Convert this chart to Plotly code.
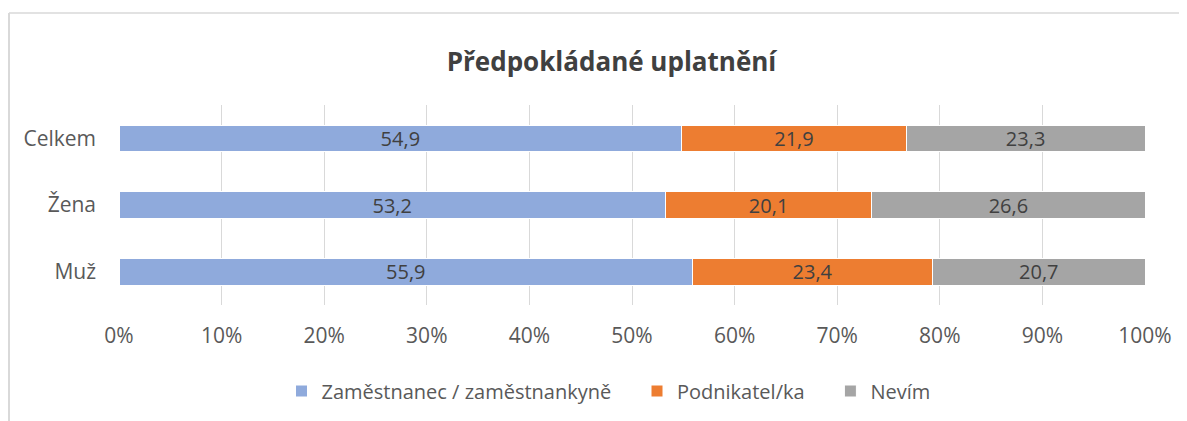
import plotly.graph_objects as go

categories = ["Muž", "Žena", "Celkem"]
series_names = ["Zaměstnanec / zaměstnankyně", "Podnikatel/ka", "Nevím"]
zamestnanec = [55.9, 53.2, 54.9]
podnikatel = [23.4, 20.1, 21.9]
nevim = [20.7, 26.6, 23.3]
tick_vals = [0, 10, 20, 30, 40, 50, 60, 70, 80, 90, 100]
tick_text = ["0%", "10%", "20%", "30%", "40%", "50%", "60%", "70%", "80%", "90%", "100%"]

colors = ["#8FAADC", "#ED7D31", "#A5A5A5"]
FONT = "Open Sans"
PAD = "\u00a0\u00a0\u00a0\u00a0"

# page body has an 8px margin: figure coordinates are page coordinates minus 8
OFF = 8
L, T, PW, PH = 119 - OFF, 105 - OFF, 1026, 200
W, H = 1187, 421

fig = go.Figure()
for i, (name, vals, col) in enumerate(zip(series_names, [zamestnanec, podnikatel, nevim], colors)):
    fig.add_trace(go.Bar(
        y=categories, x=vals, name=name + (PAD if i < 2 else ""), orientation="h",
        marker=dict(color=col, line=dict(color="white", width=1)),
        text=[f"{v:.1f}".replace(".", ",") for v in vals],
        textposition="inside", insidetextanchor="middle", textangle=0,
        textfont=dict(family=FONT, size=20, color="#404040"),
        constraintext="none",
        hoverinfo="skip",
    ))

fx = lambda px: (px - 119) / PW
fy = lambda py: (305 - py) / PH

fig.update_layout(
    barmode="stack", barnorm="percent", bargap=0.6,
    width=W, height=H,
    margin=dict(l=L, r=W - L - PW, t=T, b=H - T - PH, pad=0),
    paper_bgcolor="white", plot_bgcolor="white",
    font=dict(family=FONT, color="#595959"),
    title=dict(text="<b>Předpokládané uplatnění</b>", x=(611.5 - OFF) / W, xanchor="center",
               y=1 - (62 - OFF) / H, yanchor="middle",
               font=dict(family=FONT, size=26, color="#404040")),
    xaxis=dict(range=[0, 100], tickvals=tick_vals, ticktext=tick_text,
               showgrid=True, gridcolor="#D9D9D9", gridwidth=1,
               zeroline=False, showline=False, ticks="",
               ticklabelstandoff=16,
               tickfont=dict(family=FONT, size=21, color="#595959"),
               fixedrange=True),
    yaxis=dict(showgrid=False, zeroline=False, showline=False, ticks="",
               ticklabelstandoff=22,
               tickfont=dict(family=FONT, size=21, color="#595959")),
    legend=dict(orientation="h", x=fx(608.5), xanchor="center",
                y=fy(391), yanchor="middle",
                font=dict(family=FONT, size=20, color="#595959"),
                traceorder="normal", itemwidth=30),
    showlegend=True,
    shapes=[
        dict(type="line", xref="paper", yref="paper",
             x0=fx(OFF + 1), x1=fx(OFF + 1),
             y0=fy(440), y1=fy(13),
             line=dict(color="#D9D9D9", width=2)),
        dict(type="line", xref="paper", yref="paper",
             x0=fx(OFF + 1), x1=fx(1200),
             y0=fy(13), y1=fy(13),
             line=dict(color="#D9D9D9", width=1.5)),
    ],
)

fig.write_html("out.html")
